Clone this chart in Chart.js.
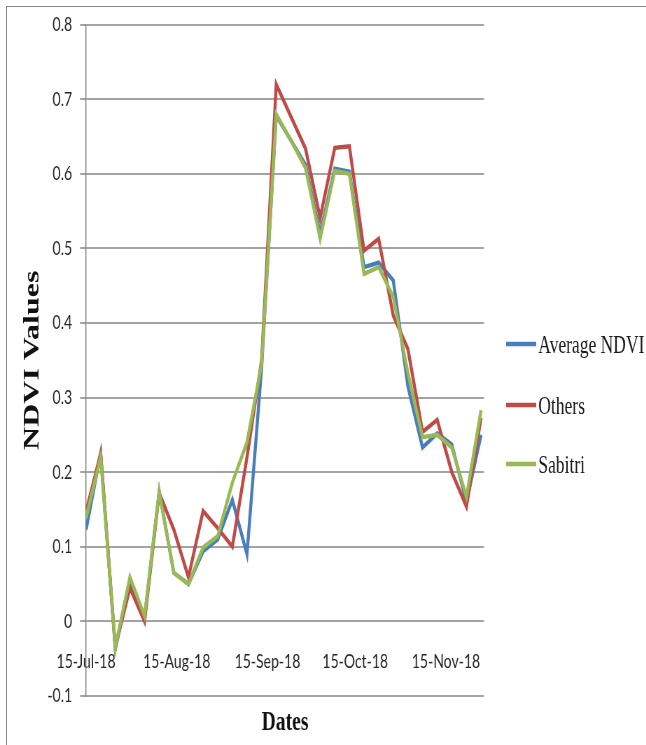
<!DOCTYPE html>
<html>
<head>
<meta charset="utf-8">
<title>NDVI Values</title>
<script src="https://cdn.jsdelivr.net/npm/chart.js@4/dist/chart.umd.min.js"></script>
<style>
  html, body { margin: 0; padding: 0; background: #fff; overflow: hidden; width: 646px; height: 745px; }
  #frame { position: absolute; left: 6px; top: 6px; width: 700px; height: 800px;
           border-top: 1.5px solid #8a8a8a; border-left: 1.5px solid #8a8a8a; }
  #plot { position: absolute; left: 0; top: 0; transform: scaleX(0.7); transform-origin: 0 0; }
</style>
</head>
<body>
<div id="frame"></div>
<canvas id="plot" width="923" height="745"></canvas>
<script>
// Acquisition dates (every 5 days)
const dates = [
  '2018-07-15', '2018-07-20', '2018-07-25', '2018-07-30', '2018-08-04', '2018-08-09', '2018-08-14',
  '2018-08-19', '2018-08-24', '2018-08-29', '2018-09-03', '2018-09-08', '2018-09-13', '2018-09-18',
  '2018-09-23', '2018-09-28', '2018-10-03', '2018-10-08', '2018-10-13', '2018-10-18', '2018-10-23',
  '2018-10-28', '2018-11-02', '2018-11-07', '2018-11-12', '2018-11-17', '2018-11-22', '2018-11-27'
];

// NDVI series
const averageNdvi = [0.123, 0.225, -0.037, 0.055, 0.005, 0.174, 0.065, 0.050, 0.094, 0.110, 0.163, 0.090, 0.340, 0.678,
                     0.645, 0.612, 0.520, 0.607, 0.603, 0.475, 0.481, 0.457, 0.315, 0.233, 0.252, 0.237, 0.160, 0.250];
const others      = [0.147, 0.225, -0.035, 0.045, 0.000, 0.172, 0.123, 0.059, 0.148, 0.125, 0.100, 0.220, 0.350, 0.720,
                     0.677, 0.634, 0.541, 0.635, 0.637, 0.497, 0.513, 0.410, 0.365, 0.254, 0.270, 0.200, 0.154, 0.273];
const sabitri     = [0.139, 0.220, -0.035, 0.059, 0.007, 0.174, 0.065, 0.050, 0.099, 0.114, 0.186, 0.240, 0.345, 0.680,
                     0.645, 0.608, 0.513, 0.604, 0.600, 0.466, 0.475, 0.435, 0.333, 0.247, 0.250, 0.233, 0.167, 0.283];

// Axis ticks
const xTickDates  = ['2018-07-15', '2018-08-15', '2018-09-15', '2018-10-15', '2018-11-15'];
const xTickLabels = ['15-Jul-18', '15-Aug-18', '15-Sep-18', '15-Oct-18', '15-Nov-18'];
const yTicks      = [-0.1, 0, 0.1, 0.2, 0.3, 0.4, 0.5, 0.6, 0.7, 0.8];
const yTickLabels = ['-0.1', '0', '0.1', '0.2', '0.3', '0.4', '0.5', '0.6', '0.7', '0.8'];

const DAY = 86400000;
const origin = Date.parse(dates[0]);
const dayOf = d => Math.round((Date.parse(d) - origin) / DAY);
const toPoints = vals => vals.map((v, i) => ({ x: dayOf(dates[i]), y: v }));

const grid = '#a3a3a3';
const tickFont = { family: 'Lato, "Liberation Sans", sans-serif', size: 20 };

// Legend drawn to the right of the plot, one row per series
const sideLegend = {
  id: 'sideLegend',
  afterDraw(chart, args, opts) {
    const { ctx } = chart;
    ctx.save();
    ctx.font = opts.font;
    ctx.textBaseline = 'middle';
    ctx.textAlign = 'left';
    chart.data.datasets.forEach((ds, i) => {
      const y = opts.rows[i];
      ctx.strokeStyle = ds.borderColor;
      ctx.lineWidth = opts.lineWidth;
      ctx.beginPath();
      ctx.moveTo(opts.x0, y);
      ctx.lineTo(opts.x1, y);
      ctx.stroke();
      ctx.fillStyle = opts.color;
      ctx.fillText(ds.label, opts.textX, y + 2);
    });
    ctx.restore();
  }
};

new Chart(document.getElementById('plot'), {
  type: 'line',
  data: {
    datasets: [
      { label: 'Average NDVI', data: toPoints(averageNdvi), borderColor: '#4a7ebb', order: 3 },
      { label: 'Others',       data: toPoints(others),      borderColor: '#be4b48', order: 2 },
      { label: 'Sabitri',      data: toPoints(sabitri),     borderColor: '#98b954', order: 1 }
    ]
  },
  options: {
    responsive: false,
    animation: false,
    devicePixelRatio: 1,
    layout: { padding: { left: 10, top: 24.7, right: 231.6, bottom: 0 } },
    elements: {
      line: { borderWidth: 4.4, tension: 0, fill: false, borderJoinStyle: 'miter', borderCapStyle: 'butt' },
      point: { radius: 0, hoverRadius: 0 }
    },
    plugins: {
      legend: { display: false },
      tooltip: { enabled: false },
      title: {
        display: true,
        text: 'Dates',
        position: 'bottom',
        fullSize: false,
        color: '#111',
        font: { family: '"Liberation Serif", serif', size: 28, weight: 'bold' },
        padding: { top: 10.5, bottom: 5 }
      },
      sideLegend: {
        x0: 723, x1: 766, textX: 769, rows: [344, 405, 464], lineWidth: 4.5,
        font: '25px "Liberation Serif", serif', color: '#1a1a1a'
      }
    },
    scales: {
      x: {
        type: 'linear',
        position: { y: 0 },
        min: 0,
        max: 136,
        afterBuildTicks: scale => { scale.ticks = xTickDates.map(d => ({ value: dayOf(d) })); },
        ticks: {
          autoSkip: false,
          maxRotation: 0,
          padding: 28.5,
          color: '#262626',
          font: tickFont,
          callback: (v) => xTickLabels[xTickDates.findIndex(d => dayOf(d) === v)]
        },
        grid: { display: false, drawTicks: false },
        border: { display: false }
      },
      y: {
        min: -0.1,
        max: 0.8,
        afterBuildTicks: scale => { scale.ticks = yTicks.map(v => ({ value: v })); },
        afterFit: scale => { scale.width = 112.9; },
        ticks: {
          padding: 11.4,
          color: '#262626',
          font: tickFont,
          callback: (v) => yTickLabels[yTicks.findIndex(t => Math.abs(t - v) < 1e-9)]
        },
        grid: { color: grid, lineWidth: 2, tickLength: 8.5, tickColor: grid, tickWidth: 2 },
        border: { color: '#7a7a7a', width: 1.4 },
        title: {
          display: true,
          text: 'NDVI Values',
          color: '#111',
          font: { family: '"Liberation Serif", serif', size: 32, weight: 'bold' },
          padding: { top: 18, bottom: 0 }
        }
      }
    }
  },
  plugins: [sideLegend]
});
</script>
</body>
</html>
